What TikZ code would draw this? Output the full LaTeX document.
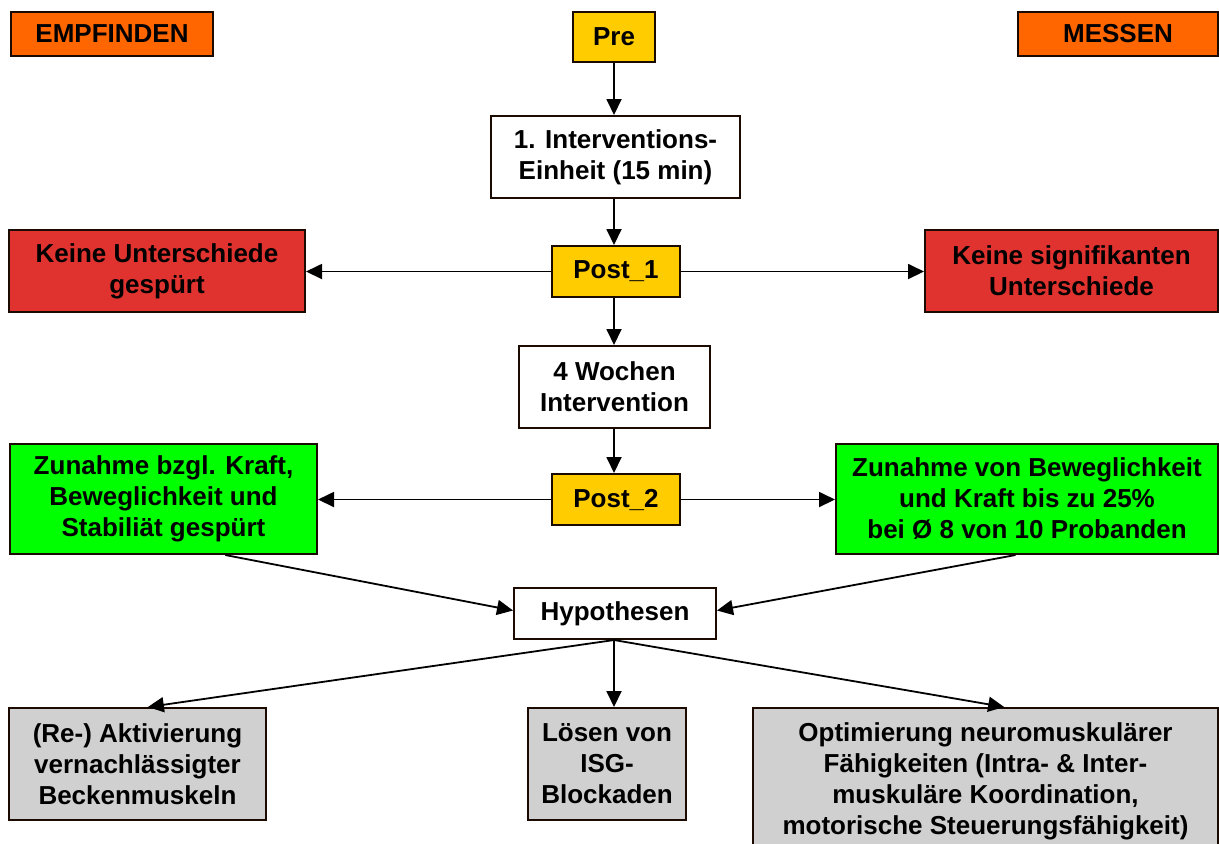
\documentclass[tikz,border=0pt]{standalone}
\usepackage{fontspec}
\setmainfont{Liberation Sans}
\usetikzlibrary{arrows.meta,calc}
\definecolor{orangebox}{HTML}{FF6600}
\definecolor{yellowbox}{HTML}{FFCC00}
\definecolor{redbox}{HTML}{E0332F}
\definecolor{greenbox}{HTML}{00FF00}
\definecolor{graybox}{HTML}{D0D0D0}
\definecolor{edge}{HTML}{1A0A00}
\tikzset{
  box/.style={draw=edge, line width=1pt, inner sep=0pt, align=center,
    font=\bfseries\fontsize{13}{15.5}\selectfont},
  obox/.style={box, fill=orangebox},
  ybox/.style={box, fill=yellowbox},
  rbox/.style={box, fill=redbox},
  gbox/.style={box, fill=greenbox},
  grbox/.style={box, fill=graybox},
  wbox/.style={box, fill=white},
  conn/.style={line width=0.9pt, -{Triangle[length=8pt,width=7.5pt]}}
}
\begin{document}
\begin{tikzpicture}[x=0.5pt,y=-0.5pt]
\useasboundingbox (0,0) rectangle (1219,843);
\node[obox, minimum width=101pt, minimum height=22pt] (emp) at (112,34) {EMPFINDEN};
\node[ybox, minimum width=41pt, minimum height=25pt] (pre) at (614,37) {Pre};
\node[obox, minimum width=100pt, minimum height=22pt] (mes) at (1118,34) {MESSEN};
\node[wbox, minimum width=124.5pt, minimum height=41pt] (int1) at (615.5,157) {1. Interventions-\\Einheit (15 min)};
\node[rbox, minimum width=148pt, minimum height=41pt] (kud) at (157,271) {Keine Unterschiede\\gespürt};
\node[ybox, minimum width=64pt, minimum height=25.5pt] (post1) at (616,271.5) {Post\_1};
\node[rbox, minimum width=146.5pt, minimum height=41pt] (ksu) at (1071.5,271) {Keine signifikanten\\Unterschiede};
\node[wbox, minimum width=95.5pt, minimum height=41pt] (woch) at (614.5,387) {4 Wochen\\Intervention};
\node[gbox, minimum width=153.5pt, minimum height=55pt] (zl) at (163.5,499) {Zunahme bzgl. Kraft,\\Beweglichkeit und\\Stabiliät gespürt};
\node[ybox, minimum width=64pt, minimum height=25.5pt] (post2) at (616,499.5) {Post\_2};
\node[gbox, minimum width=191pt, minimum height=55pt] (zr) at (1027,499) {Zunahme von Beweglichkeit\\und Kraft bis zu 25\%\\bei Ø 8 von 10 Probanden};
\node[wbox, minimum width=101pt, minimum height=25.5pt] (hyp) at (615,613.5) {Hypothesen};
\node[grbox, minimum width=128.5pt, minimum height=56pt] (akt) at (137.5,764) {(Re-) Aktivierung\\vernachlässigter\\Beckenmuskeln};
\node[grbox, minimum width=79pt, minimum height=56pt] (los) at (607,764) {Lösen von\\ISG-\\Blockaden};
\node[grbox, minimum width=232.5pt, minimum height=73pt] (opt) at (985.5,781) {Optimierung neuromuskulärer\\Fähigkeiten (Intra- \& Inter-\\muskuläre Koordination,\\motorische Steuerungsfähigkeit)};

\draw[conn] (pre.south) -- (pre.south |- int1.north);
\draw[conn] (int1.south -| pre.south) -- (pre.south |- post1.north);
\draw[conn] (post1.west) -- (kud.east |- post1.west);
\draw[conn] (post1.east) -- (ksu.west |- post1.east);
\draw[conn] (post1.south -| pre.south) -- (pre.south |- woch.north);
\draw[conn] (woch.south -| pre.south) -- (pre.south |- post2.north);
\draw[conn] (post2.west) -- (zl.east |- post2.west);
\draw[conn] (post2.east) -- (zr.west |- post2.east);
\coordinate (zls) at ($(zl.south west)!0.70!(zl.south east)$);
\coordinate (zrs) at ($(zr.south west)!0.47!(zr.south east)$);
\draw[conn] (zls) -- ($(hyp.west)+(0,-3)$);
\draw[conn] (zrs) -- ($(hyp.east)+(0,-3)$);
\coordinate (hs) at (hyp.south -| pre.south);
\draw[conn] (hs) -- ($(akt.north west)!0.54!(akt.north east)$);
\draw[conn] (hs) -- (hs |- los.north);
\draw[conn] (hs) -- ($(opt.north west)!0.54!(opt.north east)$);
\end{tikzpicture}
\end{document}
